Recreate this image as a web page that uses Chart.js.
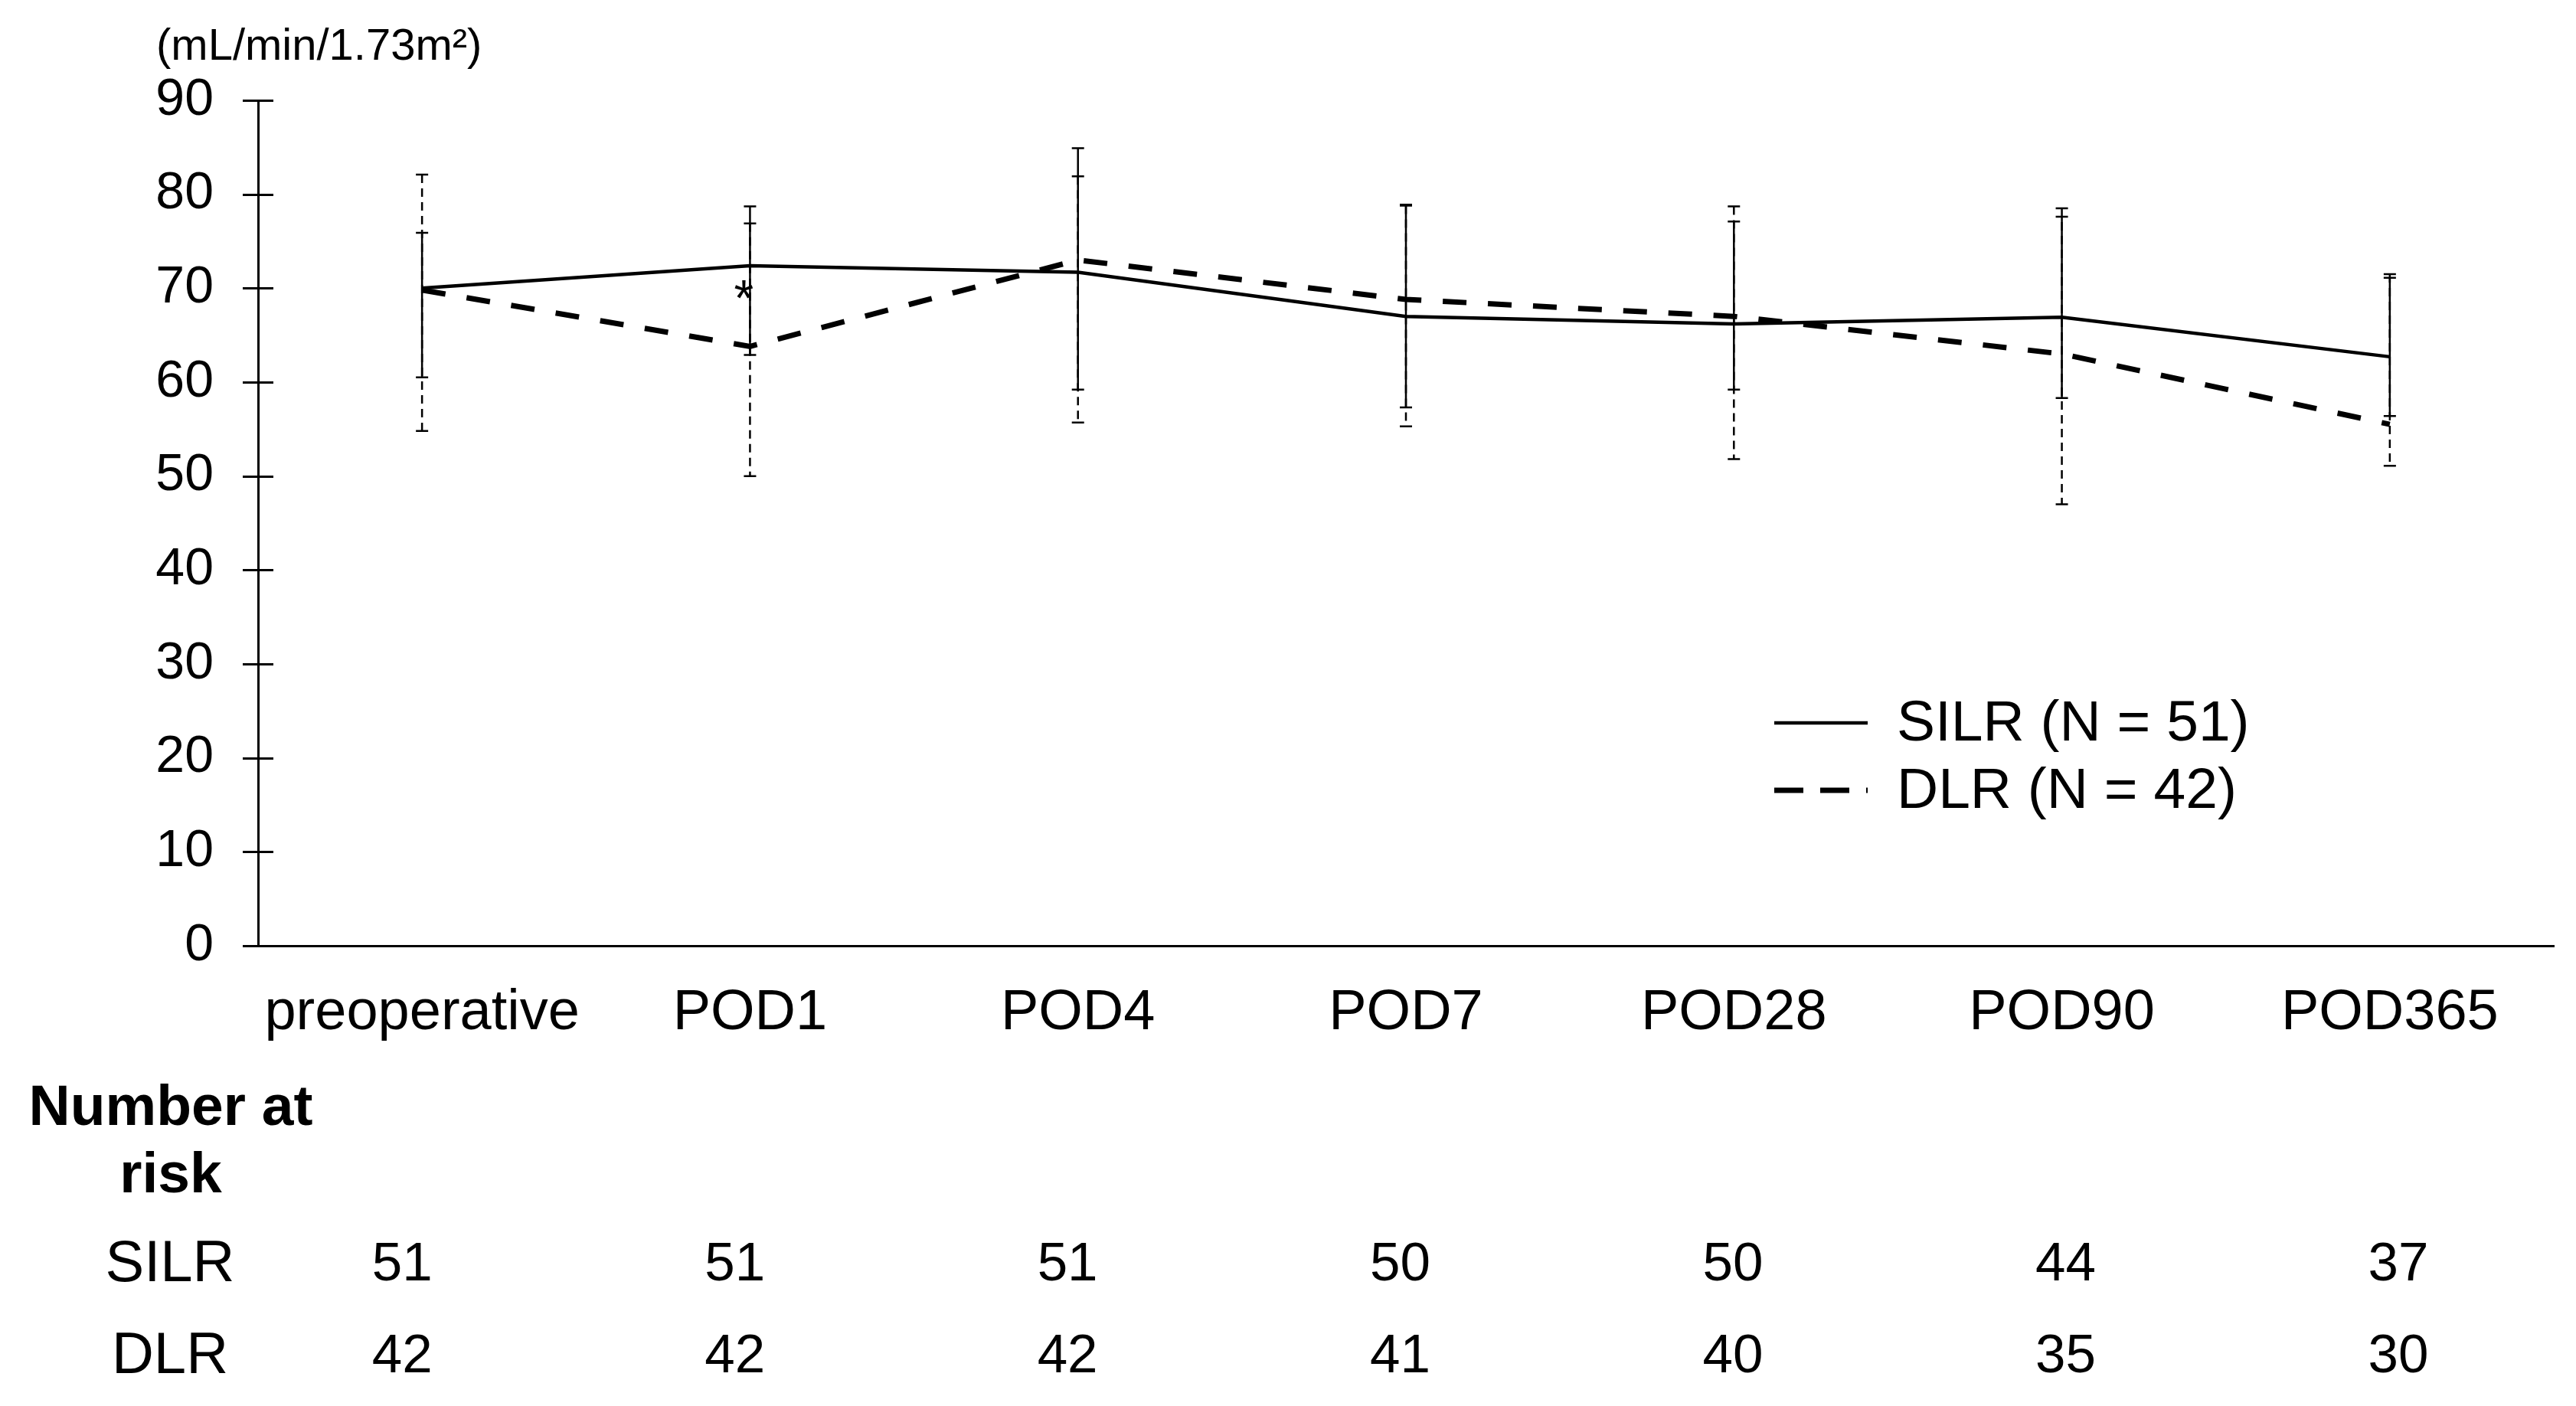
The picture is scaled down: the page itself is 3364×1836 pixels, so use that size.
<!DOCTYPE html>
<html>
<head>
<meta charset="utf-8">
<script src="https://cdn.jsdelivr.net/npm/chart.js@4.4.1/dist/chart.umd.min.js"></script>
<style>
  html, body { margin: 0; padding: 0; background: #fff; }
  canvas { display: block; }
</style>
</head>
<body>
<canvas id="egfrChart" width="3364" height="1836"></canvas>
<script>
const timepoints = ["preoperative", "POD1", "POD4", "POD7", "POD28", "POD90", "POD365"];

const silrMean = [70.0, 72.4, 71.7, 67.0, 66.2, 66.9, 62.7];
const silrUpper = [75.9, 78.7, 84.9, 78.9, 77.1, 77.6, 71.1];
const silrLower = [60.5, 62.9, 59.2, 57.3, 59.2, 58.3, 56.4];

const dlrMean = [69.8, 63.8, 73.0, 68.8, 67.0, 63.0, 55.5];
const dlrUpper = [82.1, 76.9, 81.9, 78.8, 78.7, 78.5, 71.5];
const dlrLower = [54.8, 50.0, 55.7, 55.3, 51.8, 47.0, 51.1];

const silrAtRisk = [51, 51, 51, 50, 50, 44, 37];
const dlrAtRisk = [42, 42, 42, 41, 40, 35, 30];

const yTicks = [0, 10, 20, 30, 40, 50, 60, 70, 80, 90];
const unitLabel = "(mL/min/1.73m²)";
const significance = [{ index: 1, value: 70.2, mark: "*" }];

const FONT = "'Liberation Sans', Arial, Helvetica, sans-serif";

// error bars, drawn under the lines; DLR first so SILR sits on top
const errorBars = {
  id: "errorBars",
  beforeDatasetsDraw(chart) {
    const { ctx, scales } = chart;
    const order = [1, 0];
    order.forEach((di) => {
      const ds = chart.data.datasets[di];
      ctx.save();
      ctx.strokeStyle = "#000";
      ctx.lineWidth = 2.5;
      ds.errHigh.forEach((hi, i) => {
        const x = scales.x.getPixelForValue(i);
        const yHi = scales.y.getPixelForValue(hi);
        const yLo = scales.y.getPixelForValue(ds.errLow[i]);
        ctx.setLineDash(ds.errDash);
        ctx.beginPath();
        ctx.moveTo(x, yHi);
        ctx.lineTo(x, yLo);
        ctx.stroke();
        ctx.setLineDash([]);
        ctx.beginPath();
        ctx.moveTo(x - 8, yHi);
        ctx.lineTo(x + 8, yHi);
        ctx.moveTo(x - 8, yLo);
        ctx.lineTo(x + 8, yLo);
        ctx.stroke();
      });
      ctx.restore();
    });
  },
};

// axis ticks, legend, unit label, asterisk and the number-at-risk table
const decorations = {
  id: "decorations",
  afterDraw(chart) {
    const { ctx, scales, chartArea } = chart;
    const xs = scales.x;
    const ys = scales.y;
    ctx.save();
    ctx.strokeStyle = "#000";
    ctx.fillStyle = "#000";

    ctx.lineWidth = 3;
    yTicks.forEach((v) => {
      const y = Math.round(ys.getPixelForValue(v)) + 0.5;
      ctx.beginPath();
      ctx.moveTo(chartArea.left - 20, y);
      ctx.lineTo(chartArea.left + 20, y);
      ctx.stroke();
    });

    ctx.font = "58px " + FONT;
    ctx.textAlign = "left";
    ctx.textBaseline = "middle";
    ctx.fillText(unitLabel, 204, 62);

    // asterisk glyph sits about 0.575em above the baseline
    ctx.font = "66px " + FONT;
    ctx.textAlign = "center";
    ctx.textBaseline = "alphabetic";
    significance.forEach((s) => {
      const x = xs.getPixelForValue(s.index) - 8;
      const y = ys.getPixelForValue(s.value);
      ctx.fillText(s.mark, x, y + 66 * 0.575);
    });

    // legend
    const legendRows = [
      { ds: chart.data.datasets[0], y: 944, dash: [] },
      { ds: chart.data.datasets[1], y: 1032, dash: [38, 22] },
    ];
    legendRows.forEach((row) => {
      ctx.lineWidth = row.ds.borderWidth;
      ctx.setLineDash(row.dash);
      ctx.beginPath();
      ctx.moveTo(2317, row.y);
      ctx.lineTo(2439, row.y);
      ctx.stroke();
      ctx.setLineDash([]);
      ctx.font = "75px " + FONT;
      ctx.textAlign = "left";
      ctx.textBaseline = "middle";
      ctx.fillText(row.ds.label, 2477, row.y + 2);
    });

    // number at risk
    ctx.textAlign = "center";
    ctx.textBaseline = "middle";
    ctx.font = "bold 75px " + FONT;
    ctx.fillText("Number at", 223, 1448);
    ctx.fillText("risk", 223, 1536);
    ctx.font = "76px " + FONT;
    ctx.fillText("SILR", 222, 1652);
    ctx.fillText("DLR", 222, 1772);
    ctx.font = "71px " + FONT;
    const colShift = (i) => -26 + 6.2 * i;
    silrAtRisk.forEach((n, i) => {
      ctx.fillText(String(n), xs.getPixelForValue(i) + colShift(i), 1652);
    });
    dlrAtRisk.forEach((n, i) => {
      ctx.fillText(String(n), xs.getPixelForValue(i) + colShift(i), 1772);
    });
    ctx.restore();
  },
};

const ctx = document.getElementById("egfrChart").getContext("2d");
const egfrChart = new Chart(ctx, {
  type: "line",
  data: {
    labels: timepoints,
    datasets: [
      {
        label: "SILR (N = 51)",
        data: silrMean,
        errHigh: silrUpper,
        errLow: silrLower,
        errDash: [],
        borderColor: "#000",
        borderWidth: 4.5,
        pointRadius: 0,
        tension: 0,
        fill: false,
      },
      {
        label: "DLR (N = 42)",
        data: dlrMean,
        errHigh: dlrUpper,
        errLow: dlrLower,
        errDash: [11, 7],
        borderColor: "#000",
        borderWidth: 7,
        borderDash: [31, 28],
        pointRadius: 0,
        tension: 0,
        fill: false,
      },
    ],
  },
  options: {
    responsive: false,
    animation: false,
    layout: { padding: { top: 131, right: 29, bottom: 0, left: 0 } },
    plugins: {
      legend: { display: false },
      tooltip: { enabled: false },
    },
    scales: {
      x: {
        offset: true,
        grid: { display: false, drawTicks: false },
        border: { display: true, color: "#000", width: 3 },
        ticks: {
          color: "#000",
          font: { family: FONT, size: 74 },
          padding: 44,
          maxRotation: 0,
          autoSkip: false,
        },
        afterFit: (scale) => {
          scale.height = 601;
        },
      },
      y: {
        min: 0,
        max: 90,
        grid: { display: false, drawTicks: false },
        border: { display: true, color: "#000", width: 3 },
        ticks: {
          stepSize: 10,
          color: "#000",
          font: { family: FONT, size: 68 },
          padding: 58,
        },
        afterFit: (scale) => {
          scale.width = 337;
        },
      },
    },
  },
  plugins: [errorBars, decorations],
});
</script>
</body>
</html>
